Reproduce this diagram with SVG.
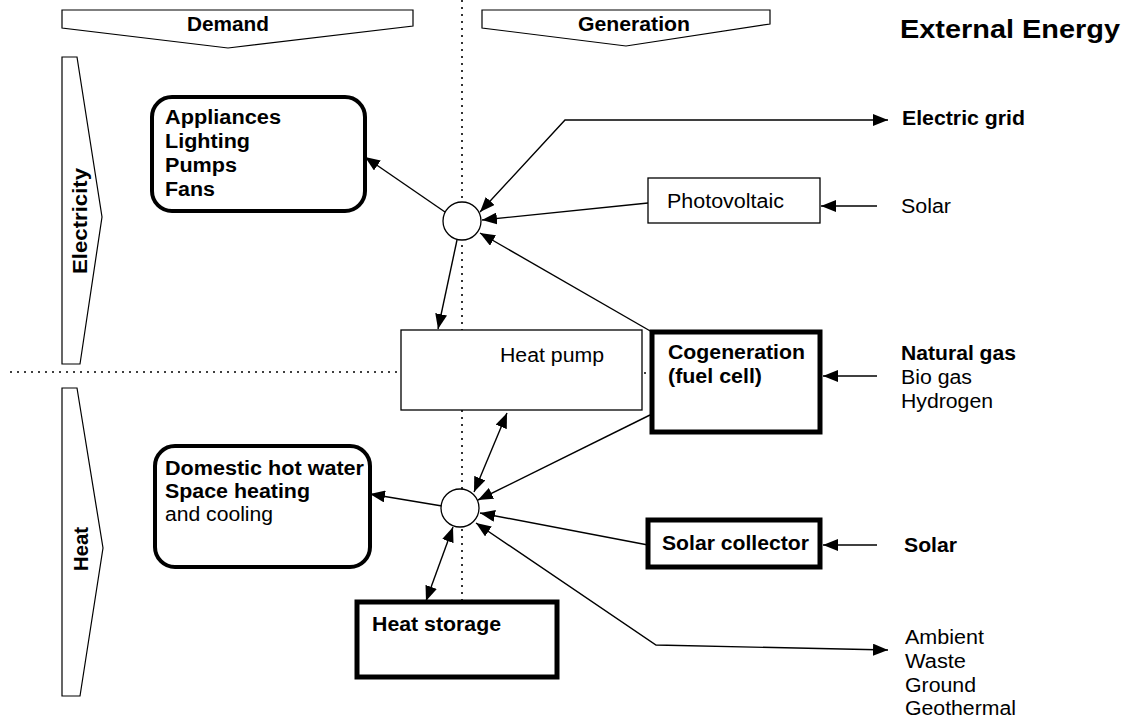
<svg xmlns="http://www.w3.org/2000/svg" width="1127" height="719" viewBox="0 0 1127 719">
<style>
text{font-family:"Liberation Sans",Arial,sans-serif;font-size:19.5px;fill:#000}
.b{font-weight:bold}
.thin{fill:#fff;stroke:#000;stroke-width:1.3}
.thick{fill:#fff;stroke:#000;stroke-width:5}
.round{fill:#fff;stroke:#000;stroke-width:4}
.ban{fill:#fff;stroke:#000;stroke-width:1.2}
.c{fill:none;stroke:#000;stroke-width:1.4}
.dot{fill:none;stroke:#000;stroke-width:1.6;stroke-dasharray:2 5}
</style>
<defs>
<marker id="ah" viewBox="0 0 15 12" refX="15" refY="6" markerWidth="15" markerHeight="12" markerUnits="userSpaceOnUse" orient="auto-start-reverse">
<path d="M0,0 L15,6 L0,12 z" fill="#000"/>
</marker>
</defs>
<rect width="1127" height="719" fill="#fff"/>
<g id="guides">
<path class="dot" d="M462,0 V330 M462,410 V600 M10,372 H400 M644,373 H652"/>
</g>
<g id="banner-demand">
<polygon class="ban" points="62,10 413,10 413,26 228,48 62,28"/>
<text class="b" x="228" y="31" text-anchor="middle" textLength="82" lengthAdjust="spacingAndGlyphs">Demand</text>
</g>
<g id="banner-generation">
<polygon class="ban" points="482,10 770,10 770,24 626,46 482,28"/>
<text class="b" x="634" y="31" text-anchor="middle" textLength="112" lengthAdjust="spacingAndGlyphs">Generation</text>
</g>
<g id="external-title">
<text class="b" x="900" y="38" style="font-size:25px" textLength="220" lengthAdjust="spacingAndGlyphs">External Energy</text>
</g>
<g id="banner-electricity">
<polygon class="ban" points="62,57 77,57 102,217 80,364 62,364"/>
<text class="b" transform="translate(87,221) rotate(-90)" text-anchor="middle" textLength="106" lengthAdjust="spacingAndGlyphs">Electricity</text>
</g>
<g id="banner-heat">
<polygon class="ban" points="62,388 77,388 103,548 80,696 62,696"/>
<text class="b" transform="translate(88,549) rotate(-90)" text-anchor="middle" textLength="44" lengthAdjust="spacingAndGlyphs">Heat</text>
</g>
<g id="connectors">
<path class="c" d="M445,212 L365,157" marker-end="url(#ah)"/>
<path class="c" d="M888,120 L565,120 L480,212" marker-start="url(#ah)" marker-end="url(#ah)"/>
<path class="c" d="M648,203 L482,220" marker-end="url(#ah)"/>
<path class="c" d="M652,332 L480,233" marker-end="url(#ah)"/>
<path class="c" d="M457,240 L438,329" marker-end="url(#ah)"/>
<path class="c" d="M507,413 L474,492" marker-start="url(#ah)" marker-end="url(#ah)"/>
<path class="c" d="M650,415 L478,500" marker-end="url(#ah)"/>
<path class="c" d="M648,545 L480,513" marker-end="url(#ah)"/>
<path class="c" d="M888,650 L656,645 L476,523" marker-start="url(#ah)" marker-end="url(#ah)"/>
<path class="c" d="M442,506 L370,494" marker-end="url(#ah)"/>
<path class="c" d="M453,527 L426,601" marker-start="url(#ah)" marker-end="url(#ah)"/>
<path class="c" d="M877,206 L821,206" marker-end="url(#ah)"/>
<path class="c" d="M877,376 L823,376" marker-end="url(#ah)"/>
<path class="c" d="M877,545 L823,545" marker-end="url(#ah)"/>
</g>
<g id="appliances">
<rect class="round" x="152" y="97" width="213" height="114" rx="20"/>
<text class="b" x="165" y="124" textLength="116" lengthAdjust="spacingAndGlyphs">Appliances</text>
<text class="b" x="165" y="148" textLength="85" lengthAdjust="spacingAndGlyphs">Lighting</text>
<text class="b" x="165" y="172" textLength="72" lengthAdjust="spacingAndGlyphs">Pumps</text>
<text class="b" x="165" y="196" textLength="50" lengthAdjust="spacingAndGlyphs">Fans</text>
</g>
<g id="domestic">
<rect class="round" x="155" y="446" width="215" height="121" rx="20"/>
<text class="b" x="165" y="475" textLength="199" lengthAdjust="spacingAndGlyphs">Domestic hot water</text>
<text class="b" x="165" y="498" textLength="145" lengthAdjust="spacingAndGlyphs">Space heating</text>
<text x="165" y="521" textLength="108" lengthAdjust="spacingAndGlyphs">and cooling</text>
</g>
<g id="bus-electric">
<circle class="thin" cx="462" cy="221" r="19"/>
</g>
<g id="bus-heat">
<circle class="thin" cx="460" cy="508" r="19"/>
</g>
<g id="photovoltaic">
<rect class="thin" x="648" y="178" width="172" height="45"/>
<text x="667" y="208" textLength="117" lengthAdjust="spacingAndGlyphs">Photovoltaic</text>
</g>
<g id="heat-pump">
<rect class="thin" x="401" y="330" width="241" height="80"/>
<text x="500" y="362" textLength="104" lengthAdjust="spacingAndGlyphs">Heat pump</text>
</g>
<g id="cogeneration">
<rect class="thick" x="652" y="332" width="168" height="100"/>
<text class="b" x="668" y="359" textLength="137" lengthAdjust="spacingAndGlyphs">Cogeneration</text>
<text class="b" x="668" y="383" textLength="94" lengthAdjust="spacingAndGlyphs">(fuel cell)</text>
</g>
<g id="solar-collector">
<rect class="thick" x="648" y="520" width="172" height="47"/>
<text class="b" x="662" y="550" textLength="147" lengthAdjust="spacingAndGlyphs">Solar collector</text>
</g>
<g id="heat-storage">
<rect class="thick" x="357" y="602" width="200" height="75"/>
<text class="b" x="372" y="631" textLength="129" lengthAdjust="spacingAndGlyphs">Heat storage</text>
</g>
<g id="external">
<text class="b" x="902" y="125" textLength="123" lengthAdjust="spacingAndGlyphs">Electric grid</text>
<text x="901" y="213" textLength="50" lengthAdjust="spacingAndGlyphs">Solar</text>
<text class="b" x="901" y="360" textLength="115" lengthAdjust="spacingAndGlyphs">Natural gas</text>
<text x="901" y="384" textLength="71" lengthAdjust="spacingAndGlyphs">Bio gas</text>
<text x="901" y="408" textLength="92" lengthAdjust="spacingAndGlyphs">Hydrogen</text>
<text class="b" x="904" y="552" textLength="53" lengthAdjust="spacingAndGlyphs">Solar</text>
<text x="905" y="644" textLength="79" lengthAdjust="spacingAndGlyphs">Ambient</text>
<text x="905" y="668" textLength="61" lengthAdjust="spacingAndGlyphs">Waste</text>
<text x="905" y="692" textLength="71" lengthAdjust="spacingAndGlyphs">Ground</text>
<text x="905" y="715" textLength="111" lengthAdjust="spacingAndGlyphs">Geothermal</text>
</g>
</svg>
